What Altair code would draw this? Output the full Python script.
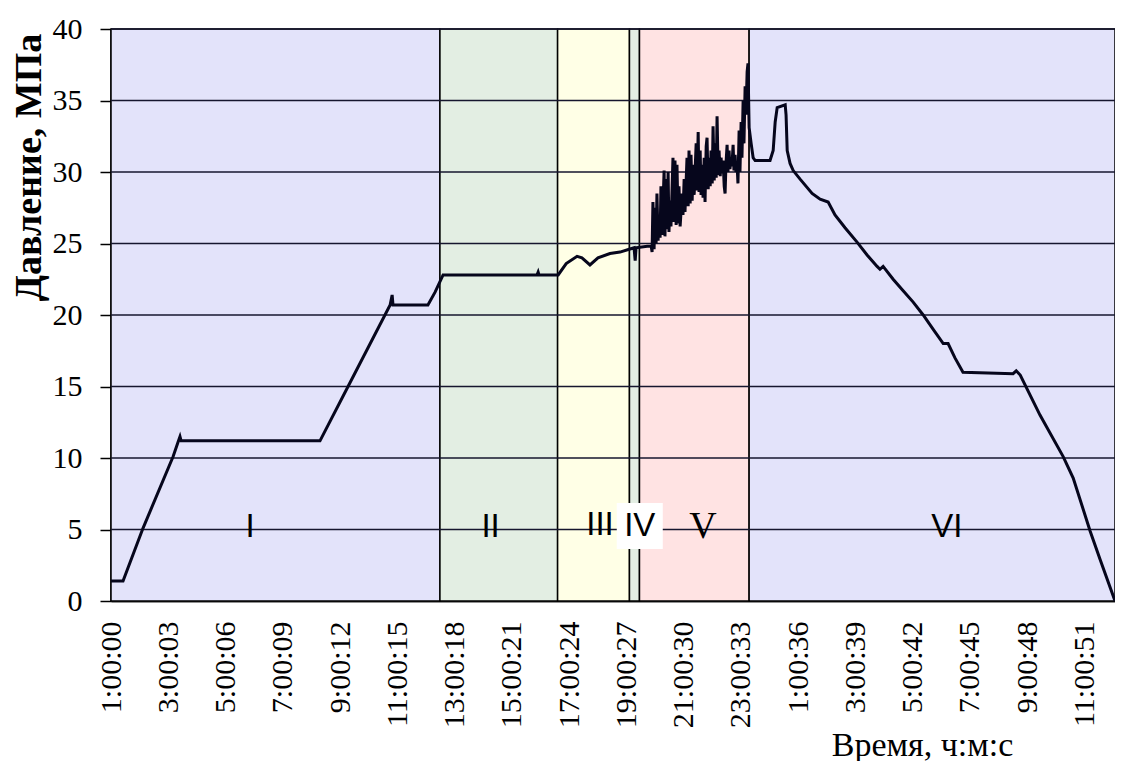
import json
import altair as alt
import pandas as pd

SERIF = "Times New Roman, Liberation Serif, DejaVu Serif, serif"
SANS = "Arial, Liberation Sans, sans-serif"

# ---- axis ticks ----
tick_hours = [0, 2, 4, 6, 8, 10, 12, 14, 16, 18, 20, 22, 24, 26, 28, 30, 32, 34]
tick_labels = ["1:00:00", "3:00:03", "5:00:06", "7:00:09", "9:00:12", "11:00:15",
               "13:00:18", "15:00:21", "17:00:24", "19:00:27", "21:00:30", "23:00:33",
               "1:00:36", "3:00:39", "5:00:42", "7:00:45", "9:00:48", "11:00:51"]
y_ticks = [0, 5, 10, 15, 20, 25, 30, 35, 40]
grid_values = [5, 10, 15, 20, 25, 30, 35, 40]
x_max = 35.07

# ---- stages ----
stage_names = ["I", "II", "III", "IV", "V", "VI"]
stage_start = [0.0, 11.49, 15.60, 18.11, 18.46, 22.29]
stage_end = [11.49, 15.60, 18.11, 18.46, 22.29, 35.07]
stage_colors = ["#E3E3FA", "#E3EEE3", "#FFFFE6", "#E3EEE3", "#FFE3E3", "#E3E3FA"]
label_time = [4.86, 13.26, 17.08, 18.47, 20.68, 29.2]
label_value = [5.2, 5.2, 5.3, 5.25, 5.2, 5.2]
label_serif = [False, False, False, False, True, False]

# ---- pressure record (time in hours, pressure in MPa) ----
time_h = [
    0.00, 0.42, 1.12, 2.17, 2.34, 2.41, 2.45, 7.30, 8.28, 9.75, 9.82, 9.85,
    11.07, 11.32, 11.60, 14.88, 14.92, 14.95, 15.58, 15.62, 15.90, 16.28, 16.45,
    16.73, 17.01, 17.43, 17.78, 18.10, 18.27, 18.31, 18.34, 18.73, 18.87,
    18.90, 18.93, 18.97, 19.00, 19.04, 19.07, 19.11, 19.14, 19.18, 19.21, 19.25,
    19.32, 19.35, 19.39, 19.42, 19.46, 19.49, 19.53, 19.56, 19.63, 19.67, 19.70,
    19.74, 19.77, 19.81, 19.84, 19.88, 19.95, 19.98, 20.02, 20.05, 20.12, 20.16,
    20.19, 20.23, 20.26, 20.30, 20.33, 20.37, 20.44, 20.47, 20.51, 20.54, 20.58,
    20.61, 20.65, 20.68, 20.72, 20.75, 20.79, 20.82, 20.86, 20.89, 20.93, 20.96,
    21.00, 21.03, 21.07, 21.10, 21.14, 21.17, 21.21, 21.24, 21.28, 21.31, 21.35,
    21.38, 21.42, 21.45, 21.48, 21.52, 21.55, 21.59, 21.62, 21.66, 21.69, 21.73,
    21.76, 21.80, 21.83, 21.87, 21.90, 21.94, 21.97, 22.01, 22.04, 22.08, 22.11,
    22.15, 22.18, 22.22, 22.25, 22.29, 22.36, 22.43, 22.50, 23.02, 23.13, 23.20,
    23.27, 23.55, 23.58, 23.62, 23.72, 23.83, 24.07, 24.49, 24.77, 25.05, 25.29,
    25.64, 26.06, 26.41, 26.76, 26.86, 26.97, 27.32, 27.67, 28.02, 28.37, 28.72,
    29.07, 29.24, 29.48, 29.76, 31.51, 31.62, 31.76, 32.45, 33.26, 33.61, 34.20,
    34.55, 35.07,
]
pressure = [
    1.4, 1.4, 5.1, 10.1, 11.1, 11.5, 11.2, 11.2, 15.0, 20.7, 21.4, 20.7,
    20.7, 21.6, 22.8, 22.8, 23.0, 22.8, 22.8, 22.8, 23.6, 24.1, 24.0,
    23.5, 24.0, 24.3, 24.4, 24.6, 24.7, 23.8, 24.7, 24.8, 24.8,
    24.4, 27.9, 24.6, 27.5, 25.0, 28.5, 25.2, 27.0, 25.4, 29.0, 25.6,
    30.1, 25.5, 29.5, 26.0, 30.0, 25.8, 28.0, 26.2, 31.0, 26.5, 30.8,
    26.3, 30.5, 26.4, 29.0, 26.2, 28.5, 27.0, 29.5, 27.2, 31.0, 27.6,
    31.5, 27.8, 31.2, 28.0, 30.5, 28.4, 32.0, 28.7, 32.8, 28.6, 31.5,
    28.4, 30.5, 28.2, 31.0, 27.9, 31.8, 32.4, 28.8, 31.0, 29.0, 31.5,
    29.2, 33.2, 29.4, 32.0, 29.6, 33.9, 29.8, 31.5, 29.7, 31.0, 29.9,
    30.8, 29.0, 28.5, 30.5, 31.9, 30.0, 31.5, 30.2, 31.0, 30.4, 31.9,
    30.1, 31.2, 30.0, 30.5, 29.2, 32.9, 30.0, 33.5, 31.0, 35.0, 32.0,
    36.0, 34.0, 37.0, 37.6, 33.1, 32.0, 31.0, 30.8, 30.8, 31.5, 33.5,
    34.5, 34.7, 34.0, 31.5, 30.6, 30.1, 29.5, 28.5, 28.1, 27.9, 27.0,
    26.1, 25.1, 24.2, 23.4, 23.2, 23.4, 22.5, 21.7, 20.9, 20.0, 19.0,
    18.0, 18.0, 17.0, 16.0, 15.9, 16.1, 15.8, 13.0, 10.1, 8.6, 4.9,
    2.9, 0.0,
]

stages = pd.DataFrame({"stage": stage_names, "start": stage_start, "end": stage_end,
                       "color": stage_colors, "lt": label_time, "lv": label_value,
                       "serif": label_serif})
series = pd.DataFrame({"t": time_h, "p": pressure})
grid = pd.DataFrame({"g": grid_values})

xscale = alt.Scale(domain=[0, x_max], nice=False, zero=False)
yscale = alt.Scale(domain=[0, 40], nice=False)

label_expr = json.dumps(tick_labels) + "[round(datum.value / 2)]"

x_axis = alt.Axis(values=tick_hours, labelExpr=label_expr, labelAngle=270,
                  labelFont=SERIF, labelFontSize=30, labelColor="black",
                  labelPadding=20, ticks=False, domainColor="#222222", domainWidth=2,
                  grid=False, labelFlush=False, labelOverlap=False,
                  title="Время, ч:м:с", titleFont=SERIF, titleFontSize=34,
                  titleFontWeight="normal", titleColor="black", titleX=811, titleY=154,
                  titleAlign="center", titleBaseline="alphabetic")
y_axis = alt.Axis(values=y_ticks, labelFont=SERIF, labelFontSize=30,
                  labelColor="black", labelPadding=18, tickSize=11, tickColor="black",
                  tickWidth=1.5, domainColor="black", domainWidth=2.5, grid=False,
                  labelFlush=False, labelOverlap=False,
                  title="Давление, МПа", titleFont=SERIF, titleFontSize=38,
                  titleFontWeight="bold", titleColor="black", titleAngle=270,
                  titleX=-71, titleY=138, titleAlign="center", titleBaseline="alphabetic")

rects = alt.Chart(stages).mark_rect(stroke="black", strokeWidth=1.5).encode(
    x=alt.X("start:Q", scale=xscale, axis=x_axis),
    x2="end:Q",
    y=alt.Y("y0:Q", scale=yscale, axis=y_axis),
    y2="y1:Q",
    color=alt.Color("color:N", scale=None),
).transform_calculate(y0="0", y1="40")

grid_rules = alt.Chart(grid).mark_rule(color="#16162e", strokeWidth=1.5).encode(
    y=alt.Y("g:Q", scale=yscale, axis=y_axis),
)

line = alt.Chart(series).mark_line(color="#06061c", strokeWidth=3).encode(
    x=alt.X("t:Q", scale=xscale, axis=x_axis),
    y=alt.Y("p:Q", scale=yscale, axis=y_axis),
)

box = alt.Chart(stages).transform_filter("datum.stage == 'IV'").mark_square(
    size=2116, color="white", opacity=1, filled=True).encode(
    x=alt.X("lt:Q", scale=xscale, axis=x_axis),
    y=alt.Y("lv:Q", scale=yscale, axis=y_axis),
)

labels_sans = alt.Chart(stages).transform_filter("!datum.serif").mark_text(
    font=SANS, fontSize=33, color="black", align="center", baseline="middle").encode(
    x=alt.X("lt:Q", scale=xscale, axis=x_axis),
    y=alt.Y("lv:Q", scale=yscale, axis=y_axis),
    text="stage:N",
)
labels_serif = alt.Chart(stages).transform_filter("datum.serif").mark_text(
    font=SERIF, fontSize=38, color="black", align="center", baseline="middle").encode(
    x=alt.X("lt:Q", scale=xscale, axis=x_axis),
    y=alt.Y("lv:Q", scale=yscale, axis=y_axis),
    text="stage:N",
)

chart = alt.layer(rects, grid_rules, line, box, labels_sans, labels_serif).properties(
    width=1004, height=572,
    autosize=alt.AutoSizeParams(type="none"),
    padding={"left": 103, "top": 21, "right": 0, "bottom": 160},
    background="white",
).configure_view(stroke=None).configure_axis(
    labelFont=SERIF, titleFont=SERIF
)

chart.save("out.html", embed_options={"renderer": "svg", "actions": False})
